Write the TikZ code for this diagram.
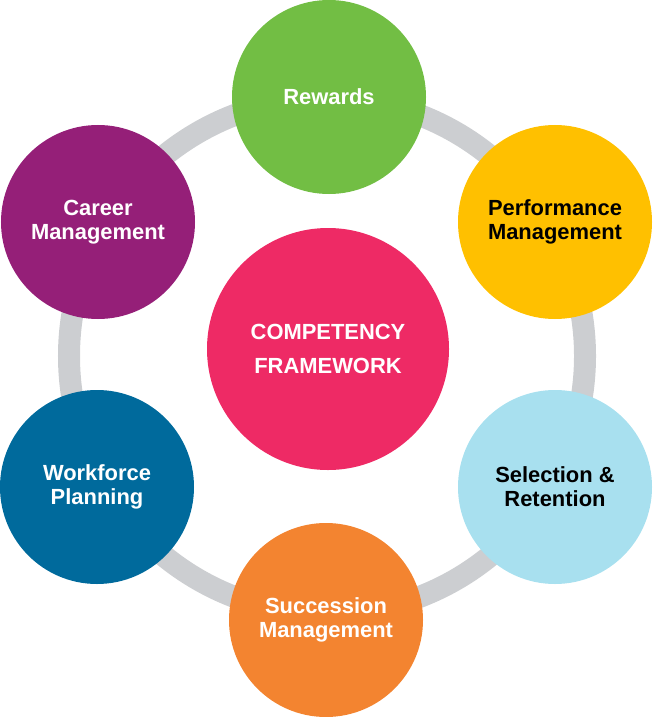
\documentclass[tikz,border=0pt]{standalone}
\usepackage{fontspec}
\setmainfont{Liberation Sans}
\usetikzlibrary{positioning}

\definecolor{ringgray}{HTML}{CCCED1}
\definecolor{rewgreen}{HTML}{72BE44}
\definecolor{perfyellow}{HTML}{FFC000}
\definecolor{selblue}{HTML}{A8E0EF}
\definecolor{succorange}{HTML}{F38430}
\definecolor{workblue}{HTML}{006A9C}
\definecolor{carpurple}{HTML}{951F78}
\definecolor{corepink}{HTML}{EE2A65}

\begin{document}
\begin{tikzpicture}[
  x=1bp, y=-1bp,
  area/.style  = {circle, minimum size=194bp, inner sep=0pt, align=center,
                  font=\fontsize{22}{24}\selectfont\bfseries, text=white},
  dark_area/.style = {area, text=black},
  core/.style  = {circle, fill=corepink, minimum size=242bp, inner sep=0pt, align=center,
                  font=\fontsize{22}{35}\selectfont\bfseries, text=white},
  ring/.style  = {draw=ringgray, line width=22bp}
]
\useasboundingbox (0,0) rectangle (653,717);

%--------------------------------------------------
% Gray ring behind the areas
%--------------------------------------------------
\coordinate (hub) at (327,356);
\draw[ring] (hub) circle[radius=258bp];

%--------------------------------------------------
% Centre
%--------------------------------------------------
\node[core] (framework) at (328,349) {COMPETENCY\\FRAMEWORK};

%--------------------------------------------------
% HR areas (circles on the ring)
%--------------------------------------------------
\node[area, fill=rewgreen] (rewards) at (329,97) {Rewards};
\node[dark_area, fill=perfyellow] (performance) at (555,222) {Performance\\Management};
\node[dark_area, fill=selblue] (selection) at (555,487) {Selection \&\\Retention};
\node[area, fill=succorange] (succession) at (326,620) {Succession\\Management};
\node[area, fill=workblue] (workforce) at (97,487) {Workforce\\Planning};
\node[area, fill=carpurple] (career) at (98,222) {Career\\Management};

\end{tikzpicture}
\end{document}
